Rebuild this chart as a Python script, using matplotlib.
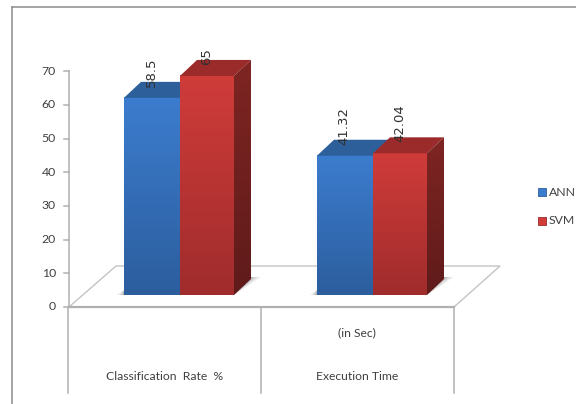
import numpy as np
import matplotlib
matplotlib.use("Agg")
import matplotlib.pyplot as plt
from matplotlib.patches import Polygon, Rectangle

categories = ["Classification  Rate  %", "Execution Time"]
extra_label = "(in Sec)"
series_names = ["ANN", "SVM"]
ann_values = [58.5, 41.32]
svm_values = [65, 42.04]
value_labels = [["58.5", "41.32"], ["65", "42.04"]]
y_ticks = [0, 10, 20, 30, 40, 50, 60, 70]

W, H = 576, 404
SCALE = 3.37    # pixels per unit
BASE = 295      # pixel row of the bar fronts
FLOOR = 307     # pixel row of the value 0 tick
DX, DY = 17, 16  # depth of the 3d bars

# colours: front top, front bottom, roof, side top, side bottom
BLUE = ("#3c7cce", "#2c5e9e", "#2d5f9b", "#25507f", "#1f4470")
RED = ("#cf3c3a", "#a02c2c", "#9a2b2a", "#7e2523", "#5f1b1a")
GREY = "#b0b0b0"

fig = plt.figure(figsize=(W / 100, H / 100), dpi=100)
ax = fig.add_axes([0, 0, 1, 1])
ax.set_xlim(0, W)
ax.set_ylim(H, 0)
ax.axis("off")


def val_y(v, base=BASE):
    return base - v * SCALE


def gradient(x0, x1, y0, y1, c_top, c_bottom, clip=None):
    rgb0 = np.array(matplotlib.colors.to_rgb(c_top))
    rgb1 = np.array(matplotlib.colors.to_rgb(c_bottom))
    t = np.linspace(0, 1, 64)[:, None, None]
    img = rgb0[None, None, :] * (1 - t) + rgb1[None, None, :] * t
    im = ax.imshow(img, extent=(x0, x1, y1, y0), aspect="auto", zorder=3,
                   interpolation="bilinear")
    if clip is not None:
        im.set_clip_path(clip)
    return im


def bar3d(x0, x1, v, cols, z=3):
    top = val_y(v)
    gradient(x0, x1, top, BASE, cols[0], cols[1])
    roof = Polygon([(x0, top), (x1, top), (x1 + DX, top - DY), (x0 + DX, top - DY)],
                   closed=True, fc=cols[2], ec="none", zorder=z)
    ax.add_patch(roof)
    side = Polygon([(x1, top), (x1 + DX, top - DY), (x1 + DX, BASE - DY), (x1, BASE)],
                   closed=True, fc="none", ec="none", zorder=z)
    ax.add_patch(side)
    gradient(x1, x1 + DX, top - DY, BASE, cols[3], cols[4], clip=side)


def floor_shadow(x0, x1):
    # soft shadow right of the side face and a small sliver at the front left
    for k, a in zip([10, 7, 4, 2], [0.10, 0.14, 0.18, 0.22]):
        ax.add_patch(Polygon([(x1, BASE), (x1 + DX + k, BASE - DY - 2),
                              (x1 + DX, BASE - DY - 2)],
                             closed=True, fc="#666666", ec="none", alpha=a, zorder=2))
    for k, a in zip([7, 4, 2], [0.15, 0.2, 0.25]):
        ax.add_patch(Polygon([(x0 - k, BASE), (x0, BASE), (x0, BASE - 5)],
                             closed=True, fc="#666666", ec="none", alpha=a, zorder=2))


# outer border, only top and left are visible in the crop
ax.plot([12, 12], [H, 7], color="#8c8c8c", lw=1.1, zorder=1)
ax.plot([12, W], [7, 7], color="#8c8c8c", lw=1.1, zorder=1)

# floor
ax.add_patch(Polygon([(69, FLOOR), (116, 266), (500, 266), (454, FLOOR)],
                     closed=True, fc="white", ec="#c4c4c4", lw=1.0, zorder=1))
ax.plot([69, 454], [FLOOR, FLOOR], color=GREY, lw=1.6, zorder=2)

# y axis
ax.plot([69, 69], [val_y(70, FLOOR), FLOOR], color=GREY, lw=1.1, zorder=2)
for t in y_ticks:
    y = val_y(t, FLOOR)
    ax.plot([64, 69], [y, y], color=GREY, lw=1.1, zorder=2)
    ax.text(56, y, str(t), ha="right", va="center",
            fontsize=8.8, color="#404040", family="Lato")

# category dividers
for x in [68, 261, 454]:
    ax.plot([x, x], [FLOOR, 393], color=GREY, lw=1.1, zorder=2)

# bars
x_starts = [124, 317]
for i in range(len(categories)):
    x0 = x_starts[i]
    floor_shadow(x0, x0 + 110)
    bar3d(x0, x0 + 56, ann_values[i], BLUE)
    bar3d(x0 + 56, x0 + 110, svm_values[i], RED)

# value labels
for i, x0 in enumerate(x_starts):
    ax.text(x0 + 27, val_y(ann_values[i]) - 11, value_labels[0][i], rotation=90,
            ha="center", va="bottom", fontsize=9.5, color="#303030", zorder=5)
    ax.text(x0 + 83, val_y(svm_values[i]) - 11, value_labels[1][i], rotation=90,
            ha="center", va="bottom", fontsize=9.5, color="#303030", zorder=5)

# category labels
ax.text(164.5, 377, categories[0], ha="center", va="center", fontsize=8.7,
        color="#404040", family="Lato")
ax.text(357, 377, categories[1], ha="center", va="center", fontsize=8.7,
        color="#404040", family="Lato")
ax.text(357, 333, extra_label, ha="center", va="center", fontsize=8.7,
        color="#404040", family="Lato")

# legend
for name, cols, y in zip(series_names, (BLUE, RED), (192, 221)):
    ax.add_patch(Rectangle((538, y - 4), 8, 8, fc=cols[0], ec=cols[2], lw=0.6, zorder=3))
    ax.text(549, y, name, ha="left", va="center", fontsize=8.8,
            color="#404040", family="Lato")

fig.savefig("out.png", dpi=100)
